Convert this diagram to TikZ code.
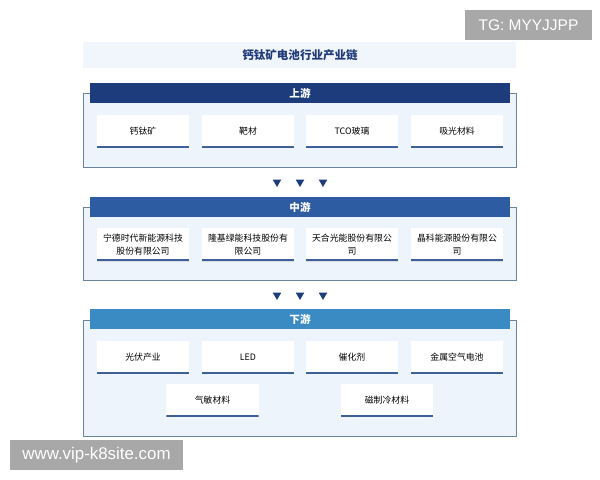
\documentclass[tikz,border=0pt]{standalone}
\usepackage{fontspec}
\setmainfont{Noto Sans CJK SC}
\newfontfamily\wmfont{Liberation Sans}
\usetikzlibrary{shadows,shapes.geometric}
\definecolor{upblue}{HTML}{1D3C7C}
\definecolor{midblue}{HTML}{2D5CA2}
\definecolor{downblue}{HTML}{3A8AC4}
\definecolor{itemline}{HTML}{3E5F98}
\definecolor{panelfill}{HTML}{EEF4FC}
\definecolor{panelline}{HTML}{6A849E}
\definecolor{bandfill}{HTML}{F1F5FC}
\definecolor{titleblue}{HTML}{1E3A78}
\definecolor{wmgray}{HTML}{A8A8A8}
\tikzset{
  panel/.style={draw=panelline, fill=panelfill, line width=0.7pt},
  head/.style={fill=#1, text=white, font=\bfseries\fontsize{7.5}{9}\selectfont, minimum width=10.5cm, minimum height=0.5cm, inner sep=0pt},
  item/.style={fill=white, minimum width=2.3cm, minimum height=0.8cm, inner sep=1pt, align=center,
    font=\fontsize{6.3}{9.5}\selectfont,
    drop shadow={shadow xshift=0pt, shadow yshift=-1pt, opacity=0.2},
    path picture={\draw[line width=1.9pt, itemline] (path picture bounding box.south west) -- (path picture bounding box.south east);}},
  tri/.style={fill=upblue, regular polygon, regular polygon sides=3, shape border rotate=180, minimum size=0.25cm, inner sep=0pt},
  wm/.style={fill=wmgray, text=white, inner sep=0pt, font=\wmfont}
}
\begin{document}
\begin{tikzpicture}[x=0.025cm,y=-0.025cm]
\useasboundingbox (0,0) rectangle (600,480);
% title band
\fill[bandfill] (83,42) rectangle (516,68);
\node[text=titleblue, font=\bfseries\fontsize{8.2}{10}\selectfont] (title) at (300,55) {钙钛矿电池行业产业链};

% upstream
\draw[panel] (83,93) rectangle (516,167);
\node[head=upblue] (uphead) at (300,93) {上游};
\node[item] (up1) at (143,131) {钙钛矿};
\node[item] (up2) at (248,131) {靶材};
\node[item] (up3) at (352,131) {TCO玻璃};
\node[item] (up4) at (457,131) {吸光材料};

\node[tri] (ta1) at (277,182) {};
\node[tri] (ta2) at (300,182) {};
\node[tri] (ta3) at (323,182) {};

% midstream
\draw[panel] (83,207) rectangle (516,280);
\node[head=midblue] (midhead) at (300,207) {中游};
\node[item] (mid1) at (143,244.5) {宁德时代新能源科技\\股份有限公司};
\node[item] (mid2) at (248,244.5) {隆基绿能科技股份有\\限公司};
\node[item] (mid3) at (352,244.5) {天合光能股份有限公\\司};
\node[item] (mid4) at (457,244.5) {晶科能源股份有限公\\司};

\node[tri] (tb1) at (277,295) {};
\node[tri] (tb2) at (300,295) {};
\node[tri] (tb3) at (323,295) {};

% downstream
\draw[panel] (83,320) rectangle (516,436);
\node[head=downblue] (downhead) at (300,319) {下游};
\node[item] (down1) at (143,357) {光伏产业};
\node[item] (down2) at (248,357) {LED};
\node[item] (down3) at (352,357) {催化剂};
\node[item] (down4) at (457,357) {金属空气电池};
\node[item] (down5) at (212.5,400) {气敏材料};
\node[item] (down6) at (387,400) {磁制冷材料};

% watermarks
\node[wm, minimum width=3.175cm, minimum height=0.75cm, font=\wmfont\fontsize{11}{13}\selectfont] (tg) at (528.5,25) {TG: MYYJJPP};
\node[wm, minimum width=4.325cm, minimum height=0.75cm, font=\wmfont\fontsize{12}{14}\selectfont] (site) at (96.5,455) {www.vip-k8site.com};
\end{tikzpicture}
\end{document}
